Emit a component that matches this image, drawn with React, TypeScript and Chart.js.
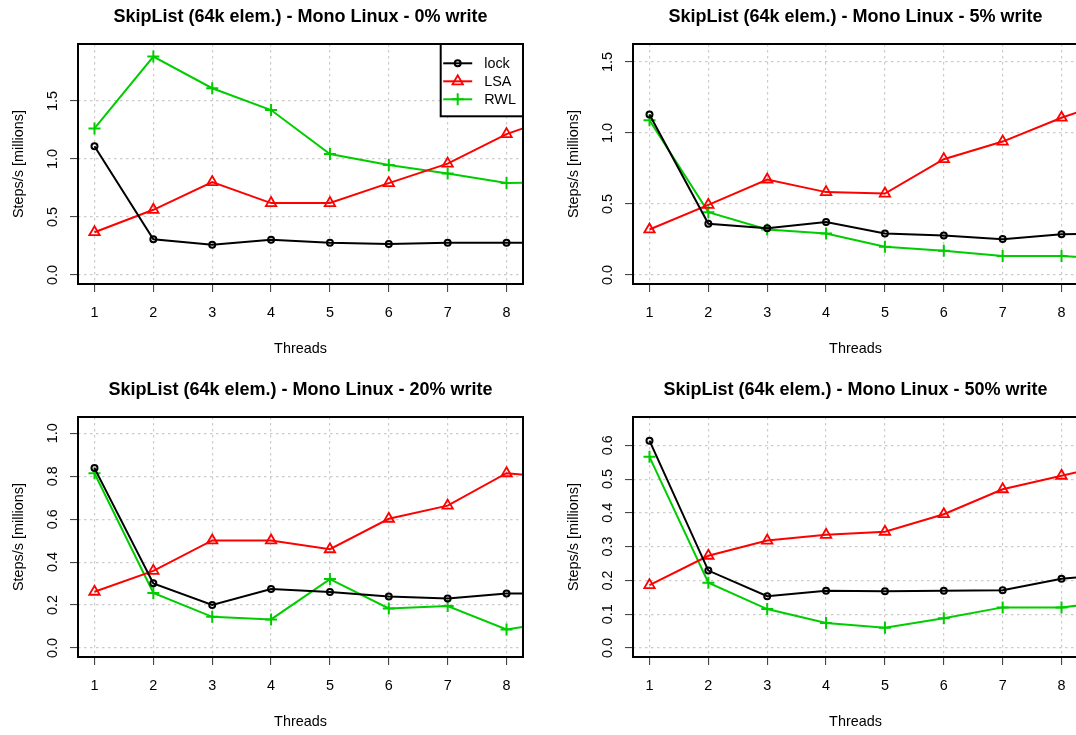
import React, { useEffect, useRef } from "react";
import { Chart, registerables } from "chart.js";

Chart.register(...registerables);

// Thread counts (the last point lies just past the visible x range)
const threads = [1, 2, 3, 4, 5, 6, 7, 8, 9];
const threadTicks = [1, 2, 3, 4, 5, 6, 7, 8];
const seriesNames = ["lock", "LSA", "RWL"];

// 0% write
const lock0 = [1.11, 0.308, 0.262, 0.305, 0.279, 0.268, 0.279, 0.279, 0.279];
const lsa0 = [0.369, 0.562, 0.801, 0.62, 0.62, 0.792, 0.96, 1.214, 1.39];
const rwl0 = [1.263, 1.882, 1.609, 1.421, 1.043, 0.948, 0.874, 0.792, 0.8];

// 5% write
const lock5 = [1.13, 0.361, 0.33, 0.373, 0.293, 0.279, 0.253, 0.288, 0.29];
const lsa5 = [0.321, 0.494, 0.673, 0.584, 0.574, 0.816, 0.94, 1.108, 1.25];
const rwl5 = [1.09, 0.443, 0.321, 0.293, 0.199, 0.171, 0.134, 0.134, 0.11];

// 20% write
const lock20 = [0.838, 0.301, 0.2, 0.275, 0.261, 0.24, 0.231, 0.254, 0.254];
const lsa20 = [0.262, 0.359, 0.501, 0.501, 0.46, 0.602, 0.663, 0.814, 0.79];
const rwl20 = [0.814, 0.256, 0.145, 0.133, 0.321, 0.184, 0.195, 0.086, 0.13];

// 50% write
const lock50 = [0.614, 0.229, 0.153, 0.169, 0.168, 0.169, 0.171, 0.205, 0.22];
const lsa50 = [0.186, 0.273, 0.318, 0.335, 0.344, 0.396, 0.47, 0.51, 0.55];
const rwl50 = [0.566, 0.193, 0.115, 0.074, 0.06, 0.088, 0.12, 0.12, 0.14];

// y tick values per panel
const yTicksA = [0, 0.5, 1.0, 1.5];
const yTicksB = [0, 0.2, 0.4, 0.6, 0.8, 1.0];
const yTicksC = [0, 0.1, 0.2, 0.3, 0.4, 0.5, 0.6];

const FONT = '"Liberation Sans", Arial, Helvetica, sans-serif';
const AXIS_PX = 14.4;
const TITLE_PX = 18;
const CANVAS_W = 556;
const CANVAS_H = 373;

const COLORS = ["#000000", "#FF0000", "#00CD00"];
const MARKERS = [
  { style: "circle", radius: 3, width: 2 },
  { style: "triangle", radius: 6, width: 1.8 },
  { style: "cross", radius: 6, width: 2 },
];

type Panel = {
  title: string;
  series: number[][];
  yMin: number;
  yMax: number;
  yTicks: number[];
  left: number;
  top: number;
  legend: boolean;
};

const panels: Panel[] = [
  { title: "SkipList (64k elem.) - Mono Linux - 0% write", series: [lock0, lsa0, rwl0], yMin: -0.077, yMax: 1.99, yTicks: yTicksA, left: 0, top: 0, legend: true },
  { title: "SkipList (64k elem.) - Mono Linux - 5% write", series: [lock5, lsa5, rwl5], yMin: -0.063, yMax: 1.627, yTicks: yTicksA, left: 555, top: 0, legend: false },
  { title: "SkipList (64k elem.) - Mono Linux - 20% write", series: [lock20, lsa20, rwl20], yMin: -0.042, yMax: 1.076, yTicks: yTicksB, left: 0, top: 373, legend: false },
  { title: "SkipList (64k elem.) - Mono Linux - 50% write", series: [lock50, lsa50, rwl50], yMin: -0.027, yMax: 0.684, yTicks: yTicksC, left: 555, top: 373, legend: false },
];

function drawMarker(ctx: CanvasRenderingContext2D, style: string, x: number, y: number, r: number, color: string, lw: number) {
  ctx.save();
  ctx.strokeStyle = color;
  ctx.lineWidth = lw;
  ctx.beginPath();
  if (style === "circle") {
    ctx.arc(x, y, r, 0, Math.PI * 2);
  } else if (style === "triangle") {
    const step = (2 * Math.PI) / 3;
    for (let i = 0; i < 3; i++) {
      const a = i * step;
      const px = x + Math.sin(a) * r;
      const py = y - Math.cos(a) * r;
      if (i === 0) ctx.moveTo(px, py);
      else ctx.lineTo(px, py);
    }
    ctx.closePath();
  } else {
    ctx.moveTo(x - r, y);
    ctx.lineTo(x + r, y);
    ctx.moveTo(x, y - r);
    ctx.lineTo(x, y + r);
  }
  ctx.stroke();
  ctx.restore();
}

// Plot box, main title and the legend, drawn on top of the plot
const framePlugin = {
  id: "rFrame",
  afterDraw(chart: any, _args: any, opts: any) {
    const { ctx, chartArea: a } = chart;
    ctx.save();
    ctx.strokeStyle = "#000";
    ctx.lineWidth = 2;
    ctx.strokeRect(a.left, a.top, a.right - a.left, a.bottom - a.top);

    ctx.fillStyle = "#000";
    ctx.font = `bold ${TITLE_PX}px ${FONT}`;
    ctx.textAlign = "center";
    ctx.textBaseline = "middle";
    ctx.fillText(opts.title, (a.left + a.right) / 2, 17.5);

    if (opts.legend) {
      const w = 82.3;
      const h = 72.3;
      const x0 = a.right - w;
      const y0 = a.top;
      ctx.fillStyle = "#fff";
      ctx.fillRect(x0, y0, w, h);
      ctx.strokeStyle = "#000";
      ctx.lineWidth = 2;
      ctx.strokeRect(x0, y0, w, h);
      ctx.font = `${AXIS_PX}px ${FONT}`;
      ctx.textAlign = "left";
      ctx.textBaseline = "middle";
      chart.data.datasets.forEach((ds: any, i: number) => {
        const y = y0 + 19.3 + i * 18;
        ctx.strokeStyle = COLORS[i];
        ctx.lineWidth = 2;
        ctx.beginPath();
        ctx.moveTo(x0 + 2.5, y);
        ctx.lineTo(x0 + 31.5, y);
        ctx.stroke();
        const m = MARKERS[i];
        drawMarker(ctx, m.style, x0 + 17, y, m.radius, COLORS[i], m.width);
        ctx.fillStyle = "#000";
        ctx.fillText(ds.label, x0 + 43.5, y + 0.5);
      });
    }
    ctx.restore();
  },
};

function makeConfig(p: Panel): any {
  const gridOpts = {
    color: "#CBCBCB",
    lineWidth: 1.2,
    borderDash: [2.5, 3.5],
    tickLength: 8,
    tickColor: "#333",
    tickWidth: 1,
    tickBorderDash: [],
    drawTicks: true,
  };
  const borderOpts = { display: false, dash: [2.5, 3.5] };
  const axisFont = { family: FONT, size: AXIS_PX };
  return {
    type: "line",
    data: {
      datasets: p.series.map((vals, i) => ({
        label: seriesNames[i],
        data: threads.map((t, k) => ({ x: t, y: vals[k] })),
        borderColor: COLORS[i],
        borderWidth: 2,
        pointStyle: MARKERS[i].style,
        pointRadius: MARKERS[i].radius,
        pointBorderWidth: MARKERS[i].width,
        pointBorderColor: COLORS[i],
        pointBackgroundColor: "rgba(0,0,0,0)",
        tension: 0,
        fill: false,
        clip: 1,
      })),
    },
    options: {
      responsive: false,
      animation: false,
      events: [],
      layout: { padding: { top: 44, right: 33, left: 0, bottom: 0 } },
      plugins: {
        legend: { display: false },
        title: { display: false },
        tooltip: { enabled: false },
        rFrame: { title: p.title, legend: p.legend },
      },
      scales: {
        x: {
          type: "linear",
          min: 0.72,
          max: 8.28,
          afterBuildTicks: (s: any) => {
            s.ticks = threadTicks.map((v) => ({ value: v }));
          },
          afterFit: (s: any) => {
            s.height = 89;
          },
          ticks: {
            autoSkip: false,
            maxRotation: 0,
            padding: 12.4,
            color: "#000",
            font: axisFont,
            callback: (v: any) => String(v),
          },
          grid: gridOpts,
          border: borderOpts,
          title: {
            display: true,
            text: "Threads",
            color: "#000",
            font: axisFont,
            padding: { top: 0, bottom: 15.4 },
          },
        },
        y: {
          type: "linear",
          min: p.yMin,
          max: p.yMax,
          afterBuildTicks: (s: any) => {
            s.ticks = p.yTicks.map((v) => ({ value: v }));
          },
          afterFit: (s: any) => {
            s.width = 78;
          },
          ticks: {
            autoSkip: false,
            minRotation: 90,
            maxRotation: 90,
            crossAlign: "center",
            padding: 6.5,
            color: "#000",
            font: axisFont,
            callback: (v: any) => Number(v).toFixed(1),
          },
          grid: gridOpts,
          border: borderOpts,
          title: {
            display: true,
            text: "Steps/s [millions]",
            color: "#000",
            font: axisFont,
            padding: { top: 10.4, bottom: 0 },
          },
        },
      },
    },
    plugins: [framePlugin],
  };
}

function PanelChart({ panel }: { panel: Panel }) {
  const ref = useRef<HTMLCanvasElement>(null);
  useEffect(() => {
    if (!ref.current) return;
    const chart = new Chart(ref.current, makeConfig(panel));
    return () => chart.destroy();
  }, [panel]);
  return (
    <canvas
      ref={ref}
      width={CANVAS_W}
      height={CANVAS_H}
      style={{ position: "absolute", left: panel.left, top: panel.top, width: CANVAS_W, height: CANVAS_H }}
    />
  );
}

export default function App() {
  return (
    <div
      style={{
        position: "fixed",
        left: 0,
        top: 0,
        width: 1076,
        height: 735,
        overflow: "hidden",
        background: "#fff",
      }}
    >
      {panels.map((p) => (
        <PanelChart key={p.title} panel={p} />
      ))}
    </div>
  );
}
